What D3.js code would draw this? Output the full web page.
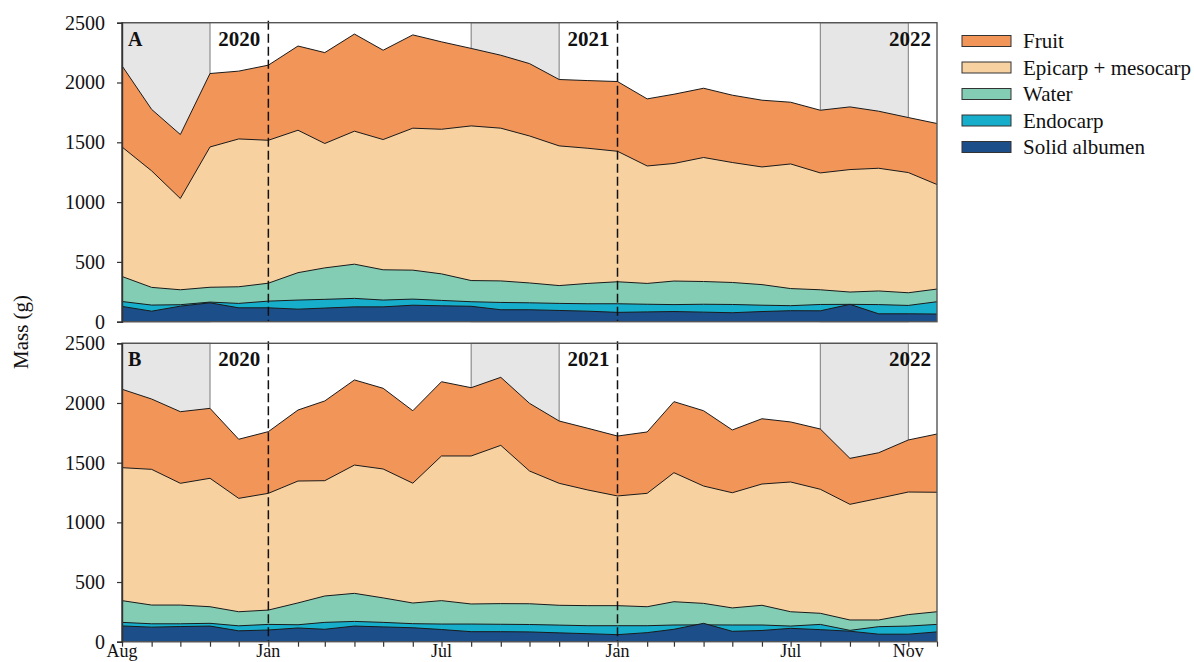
<!DOCTYPE html>
<html>
<head>
<meta charset="utf-8">
<script src="https://cdn.jsdelivr.net/npm/d3@7/dist/d3.min.js"></script>
<style>
  html, body { margin: 0; padding: 0; background: #fff; }
  svg text { font-family: "Liberation Serif", "Times New Roman", serif; fill: #111; }
</style>
</head>
<body>
<svg id="chart" width="1194" height="662"></svg>
<script>
// Monthly sampling dates
const months = ["2020-08","2020-09","2020-10","2020-11","2020-12",
  "2021-01","2021-02","2021-03","2021-04","2021-05","2021-06","2021-07","2021-08","2021-09","2021-10","2021-11","2021-12",
  "2022-01","2022-02","2022-03","2022-04","2022-05","2022-06","2022-07","2022-08","2022-09","2022-10","2022-11","2022-12"];

// Panel A — mass (g), top edge of each layer
const fruitA    = [2140,1775,1565,2075,2095,2145,2305,2250,2405,2270,2398,2340,2285,2228,2158,2025,2016,2008,1863,1902,1952,1894,1852,1835,1768,1796,1760,1707,1657];
const epicarpA  = [1461,1261,1030,1461,1528,1517,1601,1490,1593,1523,1618,1609,1637,1618,1553,1470,1450,1425,1302,1323,1373,1331,1294,1319,1244,1272,1283,1247,1147];
const waterA    = [378,287,267,288,292,322,410,450,481,434,431,400,344,341,324,302,320,334,320,340,336,328,310,277,267,248,257,242,273];
const endocarpA = [169,139,142,164,153,172,181,187,195,181,189,178,167,161,158,153,150,150,146,143,146,144,138,134,144,145,143,136,167];
const albumenA  = [128,88,130,158,116,116,105,114,124,124,138,133,129,100,100,94,88,78,82,85,80,75,85,92,91,145,66,66,64];

// Panel B — mass (g), top edge of each layer
const fruitB    = [2115,2033,1927,1955,1696,1760,1941,2017,2193,2123,1935,2178,2128,2215,1997,1849,1788,1723,1757,2011,1935,1774,1868,1841,1782,1536,1583,1690,1740];
const epicarpB  = [1458,1444,1327,1369,1201,1243,1346,1349,1480,1447,1328,1556,1556,1645,1430,1327,1271,1221,1243,1416,1304,1248,1321,1338,1277,1151,1201,1254,1252];
const waterB    = [344,307,307,293,251,265,325,383,405,367,324,344,316,319,318,305,302,302,293,335,321,283,305,251,238,182,182,227,251];
const endocarpB = [162,150,150,154,133,145,142,162,170,162,151,148,148,146,144,139,134,134,134,140,141,140,140,131,145,95,126,131,145];
const albumenB  = [132,122,127,131,91,98,115,104,131,124,117,102,84,84,82,74,67,59,76,104,154,87,94,112,101,88,63,63,82];

const seriesNames = ["Fruit","Epicarp + mesocarp","Water","Endocarp","Solid albumen"];
const seriesColors = ["#F29559","#F8D1A1","#82CDB4","#17AECB","#1C4E89"];

// Shaded dry-season periods
const dryStart = ["2020-08","2021-08","2022-08"];
const dryEnd   = ["2020-11","2021-11","2022-11"];

// Year boundaries (dashed) and year labels
const yearBreaks = ["2021-01","2022-01"];
const yearLabels = ["2020","2021","2022"];

const xTickMonths = ["2020-08","2021-01","2021-07","2022-01","2022-07","2022-11"];
const yTicks = [0,500,1000,1500,2000,2500];

const parse = d3.utcParse("%Y-%m");
const dates = months.map(parse);

const svg = d3.select("#chart");
const left = 122, right = 937;

const x = d3.scaleUtc().domain([dates[0], dates[dates.length-1]]).range([left, right]);

const panels = [
  { label: "A", top: 22.7, bottom: 321.7, series: [fruitA, epicarpA, waterA, endocarpA, albumenA], xAxis: false },
  { label: "B", top: 343.3, bottom: 641.7, series: [fruitB, epicarpB, waterB, endocarpB, albumenB], xAxis: true }
];

panels.forEach(p => {
  const y = d3.scaleLinear().domain([0, 2500]).range([p.bottom, p.top]);
  const g = svg.append("g");

  // dry-season shading
  dryStart.forEach((s, i) => {
    const x0 = x(parse(s)), x1 = x(parse(dryEnd[i]));
    g.append("rect")
      .attr("x", x0).attr("y", p.top)
      .attr("width", x1 - x0).attr("height", p.bottom - p.top)
      .attr("fill", "#E6E6E6").attr("stroke", "#7a7a7a").attr("stroke-width", 1);
  });

  // overlapping areas drawn from zero, largest first
  p.series.forEach((vals, k) => {
    const pts = vals.map((v, i) => [dates[i], v]);
    g.append("path")
      .datum(pts)
      .attr("fill", seriesColors[k])
      .attr("d", d3.area().x(d => x(d[0])).y0(y(0)).y1(d => y(d[1])));
    g.append("path")
      .datum(pts)
      .attr("fill", "none")
      .attr("stroke", "#1a1a1a")
      .attr("stroke-width", 1)
      .attr("d", d3.line().x(d => x(d[0])).y(d => y(d[1])));
  });

  // year boundaries
  yearBreaks.forEach(b => {
    g.append("line")
      .attr("x1", x(parse(b))).attr("x2", x(parse(b)))
      .attr("y1", p.top - 2).attr("y2", p.bottom)
      .attr("stroke", "#111").attr("stroke-width", 1.5)
      .attr("stroke-dasharray", "9,4");
  });

  // frame
  g.append("rect")
    .attr("x", left).attr("y", p.top)
    .attr("width", right - left).attr("height", p.bottom - p.top)
    .attr("fill", "none").attr("stroke", "#555").attr("stroke-width", 1.4);

  // y axis
  const ya = g.append("g").attr("transform", `translate(${left},0)`)
    .call(d3.axisLeft(y).tickValues(yTicks).tickSize(5).tickPadding(12).tickFormat(d3.format("d")));
  ya.select(".domain").attr("stroke", "#333").attr("stroke-width", 1.4);
  ya.selectAll(".tick line").attr("stroke", "#333").attr("stroke-width", 1.2);
  ya.selectAll("text").style("font-size", "20px").style("font-family", "Liberation Serif, serif").attr("fill", "#111");

  // x axis (bottom panel only)
  if (p.xAxis) {
    const xa = g.append("g").attr("transform", `translate(0,${p.bottom})`)
      .call(d3.axisBottom(x).tickValues(dates).tickSize(5).tickFormat(""));
    xa.select(".domain").remove();
    xa.selectAll(".tick line").attr("stroke", "#333").attr("stroke-width", 1.2);
    const fmt = d3.utcFormat("%b");
    g.selectAll(".xlab").data(xTickMonths).enter().append("text")
      .attr("x", d => x(parse(d)))
      .attr("y", p.bottom + 15.5)
      .attr("text-anchor", "middle")
      .style("font-size", "18px")
      .text(d => fmt(parse(d)));
  }

  // panel letter
  g.append("text")
    .attr("x", left + 6).attr("y", p.top + 23)
    .style("font-size", "20px").style("font-weight", "bold")
    .text(p.label);

  // year labels
  const labelEdges = yearBreaks.map(b => x(parse(b)) - 8).concat([right - 6]);
  yearLabels.forEach((t, i) => {
    g.append("text")
      .attr("x", labelEdges[i]).attr("y", p.top + 23)
      .attr("text-anchor", "end")
      .style("font-size", "21px").style("font-weight", "bold")
      .text(t);
  });
});

// y-axis title
svg.append("text")
  .attr("transform", "translate(28,332) rotate(-90)")
  .attr("text-anchor", "middle")
  .style("font-size", "21px")
  .text("Mass (g)");

// legend
const legend = svg.append("g").attr("transform", "translate(962,41)");
seriesNames.forEach((n, i) => {
  const row = legend.append("g").attr("transform", `translate(0,${i * 26.5})`);
  row.append("rect").attr("x", 0).attr("y", -5.5).attr("width", 49).attr("height", 11)
    .attr("fill", seriesColors[i]).attr("stroke", "#333").attr("stroke-width", 1);
  row.append("text").attr("x", 61).attr("y", 0).attr("dy", "0.35em")
    .style("font-size", "21px").text(n);
});
</script>
</body>
</html>
